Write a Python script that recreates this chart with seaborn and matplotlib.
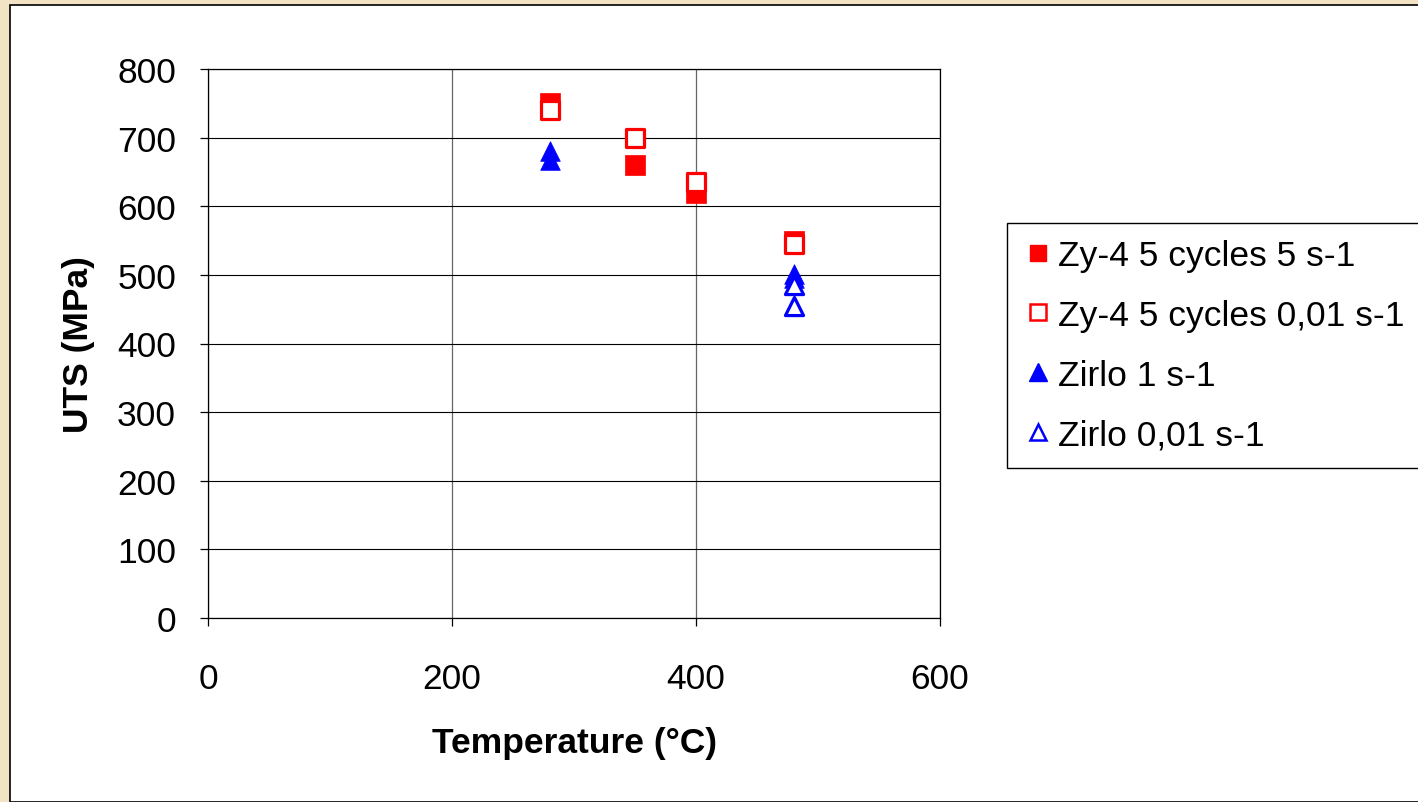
import matplotlib
matplotlib.use("Agg")
import matplotlib.pyplot as plt
import seaborn as sns
import pandas as pd
from matplotlib.lines import Line2D
from matplotlib.patches import Rectangle

# ---- data ----
zy4_fast_T = [280, 350, 400, 480]
zy4_fast_uts = [750, 660, 620, 550]
zy4_slow_T = [280, 350, 400, 480]
zy4_slow_uts = [740, 700, 635, 545]
zirlo_fast_T = [280, 280, 480, 480]
zirlo_fast_uts = [680, 668, 502, 496]
zirlo_slow_T = [480, 480]
zirlo_slow_uts = [485, 455]

labels = ["Zy-4 5 cycles 5 s-1", "Zy-4 5 cycles 0,01 s-1", "Zirlo 1 s-1", "Zirlo 0,01 s-1"]
x_ticks = [0, 200, 400, 600]
y_ticks = [0, 100, 200, 300, 400, 500, 600, 700, 800]

sns.set_theme(style="white")
plt.rcParams['font.family'] = ['Liberation Sans', 'DejaVu Sans']
plt.rcParams['text.color'] = 'black'
plt.rcParams['axes.labelcolor'] = 'black'
plt.rcParams['xtick.color'] = 'black'
plt.rcParams['ytick.color'] = 'black'
FS = 25.5

W, H = 1418, 803
fig = plt.figure(figsize=(W / 100, H / 100), dpi=100)
fig.patch.set_facecolor('#f2e3c4')
bg = Rectangle((10 / W, 0), 1.0, 1 - 6 / H, transform=fig.transFigure,
               facecolor='white', edgecolor='black', linewidth=1.2, zorder=-10)
fig.patches.append(bg)

ax = fig.add_axes([208 / W, 1 - 619 / H, (940 - 208) / W, (619 - 70) / H])
ax.set_zorder(5)
ax.set_facecolor('white')

d1 = pd.DataFrame({"T": zy4_fast_T, "UTS": zy4_fast_uts})
d2 = pd.DataFrame({"T": zy4_slow_T, "UTS": zy4_slow_uts})
d3 = pd.DataFrame({"T": zirlo_fast_T, "UTS": zirlo_fast_uts})
d4 = pd.DataFrame({"T": zirlo_slow_T, "UTS": zirlo_slow_uts})

sns.scatterplot(data=d1, x="T", y="UTS", ax=ax, marker='s', s=190,
                facecolor='#ff0000', edgecolor='#ff0000', linewidth=0.5, zorder=3)
sns.scatterplot(data=d2, x="T", y="UTS", ax=ax, marker='s', s=150,
                facecolor='white', edgecolor='#ff0000', linewidth=2.3, zorder=4)
sns.scatterplot(data=d3, x="T", y="UTS", ax=ax, marker='^', s=200,
                facecolor='#0000ff', edgecolor='#0000ff', linewidth=0.5, zorder=3)
sns.scatterplot(data=d4, x="T", y="UTS", ax=ax, marker='^', s=170,
                facecolor='white', edgecolor='#0000ff', linewidth=2.3, zorder=4)

ax.set_xlim(0, 600)
ax.set_ylim(0, 800)
ax.set_xticks(x_ticks)
ax.set_yticks(y_ticks)
ax.set_xticklabels([str(t) for t in x_ticks], fontsize=FS)
ax.set_yticklabels([str(t) for t in y_ticks], fontsize=FS)
ax.grid(True, axis='y', color='black', linewidth=0.8)
ax.grid(True, axis='x', color='#666666', linewidth=0.9)
ax.set_axisbelow(True)
for sp in ax.spines.values():
    sp.set_visible(True)
    sp.set_color('black')
    sp.set_linewidth(0.9)
ax.tick_params(axis='x', direction='out', length=6, width=0.9, color='black', pad=26, bottom=True)
ax.tick_params(axis='y', direction='out', length=6, width=0.9, color='black', pad=17, left=True)

ax.set_xlabel("Temperature (°C)", fontsize=FS, fontweight='bold', labelpad=22)
ax.set_ylabel("UTS (MPa)", fontsize=FS, fontweight='bold', labelpad=16)

handles = [
    Line2D([], [], linestyle='none', marker='s', markersize=12, markerfacecolor='#ff0000', markeredgecolor='#ff0000'),
    Line2D([], [], linestyle='none', marker='s', markersize=11, markerfacecolor='white', markeredgecolor='#ff0000', markeredgewidth=1.8),
    Line2D([], [], linestyle='none', marker='^', markersize=13, markerfacecolor='#0000ff', markeredgecolor='#0000ff'),
    Line2D([], [], linestyle='none', marker='^', markersize=12, markerfacecolor='white', markeredgecolor='#0000ff', markeredgewidth=1.8),
]
leg = fig.legend(handles, labels, loc='upper left', bbox_to_anchor=(1007 / W, 1 - 224 / H),
                 bbox_transform=fig.transFigure, fontsize=FS, frameon=True, fancybox=False,
                 edgecolor='black', borderpad=0.45, labelspacing=0.76, handlelength=0.85,
                 handletextpad=0.15, borderaxespad=0)
leg.set_zorder(6)
for t in leg.get_texts():
    t.set_color('black')
leg.get_frame().set_linewidth(1.0)
leg.get_frame().set_facecolor('white')
leg.get_frame().set_alpha(1)

fig.savefig("out.png", dpi=100, facecolor=fig.get_facecolor())
